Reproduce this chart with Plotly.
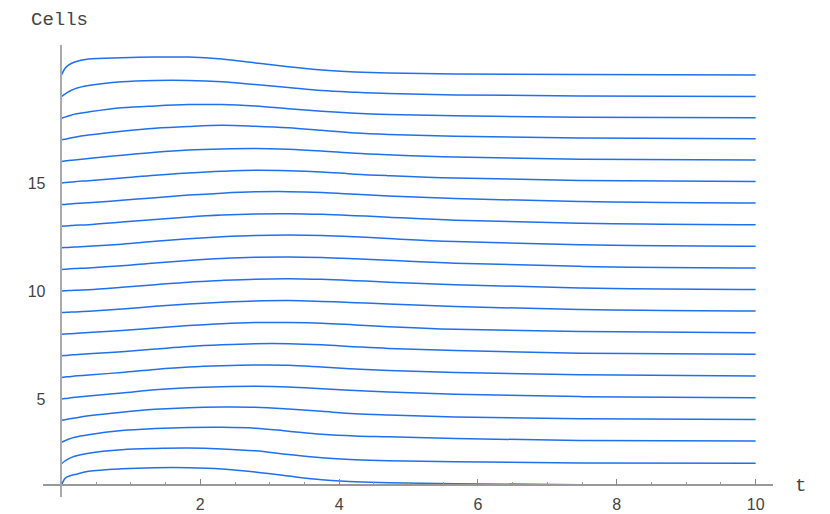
import plotly.graph_objects as go

# sample times
t = [0, 0.05, 0.1, 0.19, 0.39, 0.87, 1.35, 1.83, 2.31, 2.79, 3.27, 3.75, 4.23, 4.71, 5.67, 7.5, 10]

# one curve per initial cell count
c01 = [1.00, 1.32, 1.42, 1.50, 1.65, 1.77, 1.82, 1.82, 1.76, 1.62, 1.43, 1.26, 1.17, 1.12, 1.08, 1.03, 1.01]
c02 = [2.00, 2.13, 2.23, 2.35, 2.49, 2.65, 2.71, 2.73, 2.69, 2.60, 2.43, 2.28, 2.19, 2.14, 2.09, 2.04, 2.03]
c03 = [3.00, 3.07, 3.14, 3.23, 3.35, 3.54, 3.63, 3.68, 3.69, 3.65, 3.51, 3.37, 3.29, 3.25, 3.17, 3.08, 3.05]
c04 = [4.00, 4.04, 4.07, 4.12, 4.22, 4.39, 4.52, 4.60, 4.63, 4.62, 4.54, 4.43, 4.32, 4.26, 4.17, 4.09, 4.05]
c05 = [5.00, 5.02, 5.04, 5.08, 5.14, 5.28, 5.43, 5.52, 5.57, 5.59, 5.56, 5.48, 5.39, 5.32, 5.22, 5.11, 5.06]
c06 = [6.00, 6.02, 6.03, 6.06, 6.11, 6.23, 6.37, 6.48, 6.54, 6.57, 6.56, 6.48, 6.39, 6.32, 6.23, 6.12, 6.07]
c07 = [7.00, 7.01, 7.03, 7.05, 7.09, 7.19, 7.31, 7.43, 7.51, 7.56, 7.56, 7.51, 7.42, 7.34, 7.24, 7.12, 7.07]
c08 = [8.00, 8.01, 8.02, 8.03, 8.08, 8.17, 8.29, 8.40, 8.49, 8.54, 8.54, 8.51, 8.43, 8.35, 8.23, 8.12, 8.07]
c09 = [9.00, 9.01, 9.02, 9.03, 9.06, 9.17, 9.29, 9.40, 9.48, 9.54, 9.56, 9.52, 9.46, 9.40, 9.28, 9.14, 9.07]
c10 = [10.00, 10.01, 10.02, 10.03, 10.06, 10.17, 10.29, 10.41, 10.49, 10.55, 10.57, 10.54, 10.48, 10.41, 10.29, 10.14, 10.07]
c11 = [11.00, 11.01, 11.02, 11.04, 11.07, 11.17, 11.30, 11.41, 11.50, 11.56, 11.58, 11.55, 11.49, 11.42, 11.29, 11.14, 11.07]
c12 = [12.00, 12.01, 12.02, 12.04, 12.07, 12.17, 12.30, 12.42, 12.51, 12.57, 12.59, 12.57, 12.51, 12.43, 12.29, 12.14, 12.07]
c13 = [13.00, 13.01, 13.02, 13.05, 13.07, 13.19, 13.31, 13.43, 13.52, 13.57, 13.58, 13.55, 13.49, 13.42, 13.28, 13.14, 13.07]
c14 = [14.00, 14.01, 14.03, 14.05, 14.09, 14.20, 14.32, 14.44, 14.53, 14.59, 14.60, 14.56, 14.48, 14.40, 14.28, 14.14, 14.07]
c15 = [15.00, 15.02, 15.03, 15.06, 15.11, 15.23, 15.36, 15.46, 15.54, 15.59, 15.57, 15.51, 15.41, 15.34, 15.23, 15.12, 15.07]
c16 = [16.00, 16.02, 16.04, 16.07, 16.14, 16.29, 16.43, 16.53, 16.58, 16.60, 16.56, 16.48, 16.38, 16.31, 16.20, 16.10, 16.06]
c17 = [17.00, 17.03, 17.06, 17.12, 17.22, 17.40, 17.54, 17.62, 17.67, 17.63, 17.56, 17.44, 17.32, 17.25, 17.16, 17.08, 17.05]
c18 = [18.00, 18.05, 18.10, 18.19, 18.29, 18.48, 18.57, 18.63, 18.63, 18.56, 18.44, 18.32, 18.23, 18.17, 18.11, 18.04, 18.02]
c19 = [19.00, 19.12, 19.22, 19.36, 19.51, 19.69, 19.75, 19.75, 19.69, 19.56, 19.42, 19.28, 19.20, 19.14, 19.08, 19.03, 19.01]
c20 = [20.00, 20.30, 20.46, 20.60, 20.74, 20.80, 20.83, 20.83, 20.74, 20.56, 20.38, 20.23, 20.14, 20.09, 20.05, 20.02, 20.00]

curves = [c01, c02, c03, c04, c05, c06, c07, c08, c09, c10,
          c11, c12, c13, c14, c15, c16, c17, c18, c19, c20]

xr = [-0.266, 10.25]
yr = [0.463, 21.39]

fig = go.Figure()
for c in curves:
    fig.add_trace(go.Scatter(x=t, y=c, mode="lines",
                             line=dict(color="#1f70ee", width=1.5, shape="spline", smoothing=1.0),
                             showlegend=False, hoverinfo="skip"))

# page body adds 8px, so the figure is 8px smaller and margins shifted
fig.update_layout(
    width=822, height=506,
    margin=dict(l=35, r=57, t=37, b=17),
    plot_bgcolor="white", paper_bgcolor="white",
    font=dict(family="Liberation Sans", size=16, color="#444"),
    xaxis=dict(range=xr, showgrid=False, zeroline=False, automargin=False,
               anchor="free", position=(1 - yr[0]) / (yr[1] - yr[0]),
               showline=True, linecolor="#999", linewidth=1.5,
               tickvals=[2, 4, 6, 8, 10], ticks="inside", ticklen=6, tickwidth=1, tickcolor="#888",
               minor=dict(dtick=0.5, tick0=0, ticks="inside", ticklen=3, tickcolor="#999"),
               ticklabelstandoff=5),
    yaxis=dict(range=yr, showgrid=False, zeroline=False, automargin=False,
               anchor="free", position=(0 - xr[0]) / (xr[1] - xr[0]),
               showline=True, linecolor="#aaa", linewidth=1.5,
               tickvals=[5, 10, 15], ticks="", ticklabelstandoff=12),
    annotations=[
        dict(text="Cells", x=(30 - 43) / 730, y=1 + 37 / 452, xref="paper", yref="paper",
             xanchor="left", yanchor="top", showarrow=False, borderpad=0,
             font=dict(family="Liberation Mono", size=19, color="#444")),
        dict(text="t", x=(800 - 43) / 730, y=(497 - 486) / 452, xref="paper", yref="paper",
             xanchor="center", yanchor="middle", showarrow=False,
             font=dict(family="Liberation Mono", size=19, color="#444")),
    ],
)

fig.write_html("out.html")
